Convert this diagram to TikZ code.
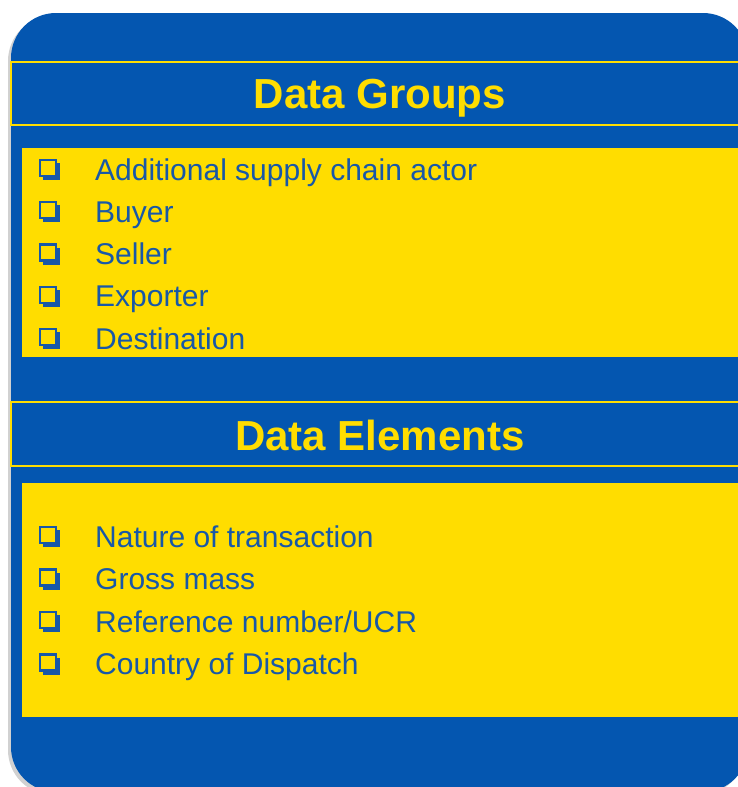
\documentclass[tikz,border=0pt]{standalone}
\usepackage{fontspec}
\setmainfont{Liberation Sans}
\usetikzlibrary{shadows}

\definecolor{boxblue}{HTML}{0456B0}
\definecolor{textblue}{HTML}{1858A8}
\definecolor{boxyellow}{HTML}{FFDD00}

\tikzset{
  header/.style={draw=boxyellow, line width=1.5pt, fill=boxblue},
  listbox/.style={fill=boxyellow},
  title/.style={anchor=base, text=boxyellow, inner sep=0pt,
    font=\fontsize{42}{50}\selectfont\bfseries},
  item/.style={anchor=base west, text=textblue, inner sep=0pt,
    font=\fontsize{30}{36}\selectfont},
  cbox/.pic={
    \fill[textblue] (-5,-5) rectangle (12,12);
    \draw[textblue, line width=2.4pt, fill=boxyellow] (-8,-8) rectangle (8,8);
  }
}

\begin{document}
\begin{tikzpicture}[x=1pt,y=-1pt]
\useasboundingbox (0,0) rectangle (738,787);
\clip (0,0) rectangle (738,787);

% outer panel
\fill[boxblue, rounded corners=45pt, drop shadow={shadow xshift=-3pt,
  shadow yshift=-3pt, opacity=.18, fill=black}] (11,13) rectangle (748,792);

% data groups
\draw[header] (11,62) rectangle (760,125);
\node[title] (groups) at (380,108) {Data Groups};
\fill[listbox] (22,148) rectangle (760,357);

\foreach \txt [count=\i] in {Additional supply chain actor, Buyer, Seller,
  Exporter, Destination}{
  \node[item] (grp\i) at (95,{180+42.25*(\i-1)}) {\txt};
  \pic at (48,{168+42.25*(\i-1)}) {cbox};
}

% data elements
\draw[header] (11,402) rectangle (760,466);
\node[title] (elements) at (380,450) {Data Elements};
\fill[listbox] (22,483) rectangle (760,717);

\foreach \txt [count=\i] in {Nature of transaction, Gross mass,
  Reference number/UCR, Country of Dispatch}{
  \node[item] (elm\i) at (95,{547+42.5*(\i-1)}) {\txt};
  \pic at (48,{535+42.5*(\i-1)}) {cbox};
}
\end{tikzpicture}
\end{document}
